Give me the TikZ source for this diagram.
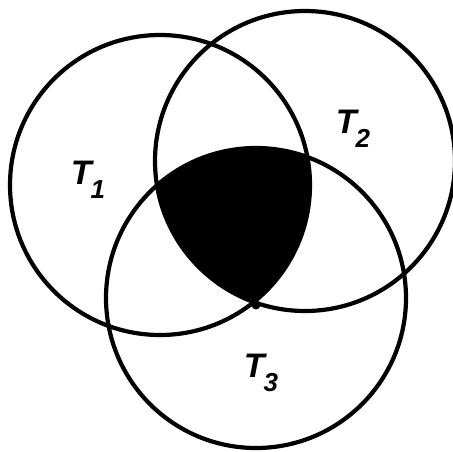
\documentclass[tikz,border=0pt]{standalone}
\usepackage{fontspec}
\setsansfont{Liberation Sans}
\newcommand{\sublab}[1]{\raisebox{-0.42em}{\fontsize{26}{28}\selectfont\bfseries\itshape #1}}
\begin{document}
\begin{tikzpicture}[x=1pt,y=-1pt,
  ring/.style={draw=black, line width=4.2pt},
  lab/.style={font=\fontsize{34}{36}\selectfont\sffamily\itshape\bfseries, inner sep=0pt, anchor=center}]
\useasboundingbox (0,0) rectangle (453,451);
\fill[white] (0,0) rectangle (453,451);
\coordinate (c1) at (160,185);
\coordinate (c2) at (305,161);
\coordinate (c3) at (256,298);
\begin{scope}
  \clip (c1) circle[radius=150pt];
  \clip (c2) circle[radius=150pt];
  \fill[black] (c3) circle[radius=150pt];
\end{scope}
\draw[ring] (c1) circle[radius=150pt];
\draw[ring] (c2) circle[radius=150pt];
\draw[ring] (c3) circle[radius=150pt];
\coordinate (p) at (256,305);
\fill[black] (p) circle[radius=4.5pt];
\node[lab] (t1) at (88,180) {T\kern-1pt\sublab{1}};
\node[lab] (t2) at (353,129) {T\kern-1pt\sublab{2}};
\node[lab] (t3) at (261,373) {T\kern-1pt\sublab{3}};
\end{tikzpicture}
\end{document}
